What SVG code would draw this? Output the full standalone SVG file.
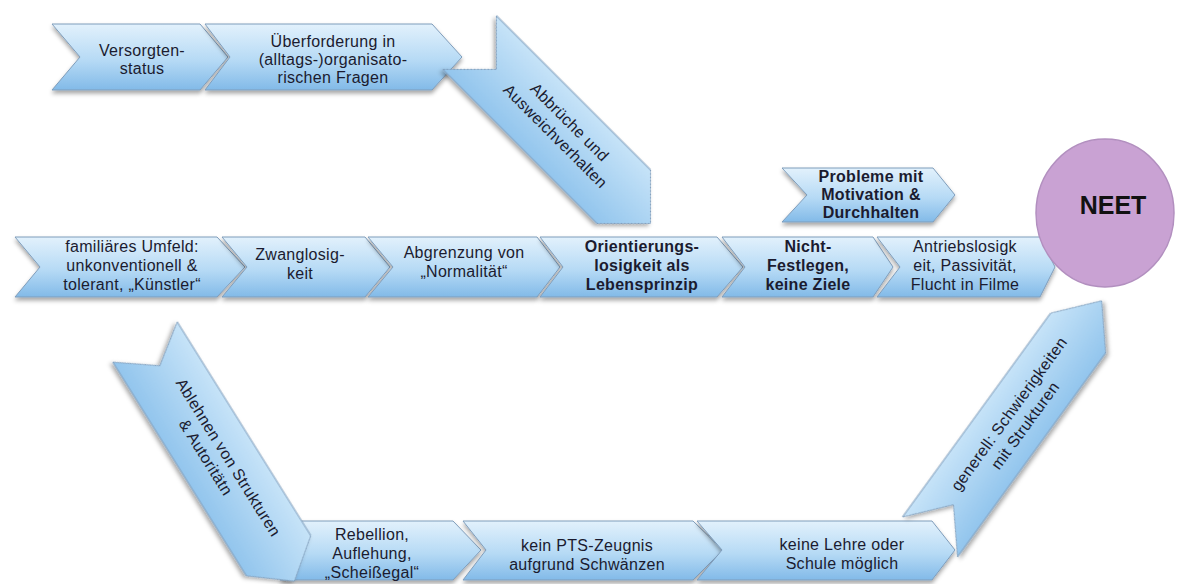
<svg xmlns="http://www.w3.org/2000/svg" width="1177" height="584" viewBox="0 0 1177 584">
  <defs>
    <linearGradient id="chev" x1="0" y1="0" x2="0" y2="1">
      <stop offset="0" stop-color="#e2f1fc"/>
      <stop offset="0.55" stop-color="#b6daf5"/>
      <stop offset="1" stop-color="#82bae8"/>
    </linearGradient>
    <linearGradient id="diag" x1="0" y1="0" x2="0" y2="1">
      <stop offset="0" stop-color="#c6e3f8"/>
      <stop offset="1" stop-color="#92c5ed"/>
    </linearGradient>
    <filter id="sh" x="-10%" y="-20%" width="120%" height="150%">
      <feDropShadow dx="0" dy="3" stdDeviation="2" flood-color="#000" flood-opacity="0.35"/>
    </filter>
  </defs>
  <style>
    .chev { fill: url(#chev); stroke: #7f9dbb; stroke-width: 1; filter: url(#sh); }
    .arr { fill: url(#diag); stroke: #7f9dbb; stroke-width: 1; filter: url(#sh); }
    text { font-family: "Liberation Sans", Arial, sans-serif; font-size: 16px; letter-spacing: 0.3px; fill: #1b1b2f; text-anchor: middle; }
    .b { font-weight: bold; }
    .neet { font-size: 25px; font-weight: bold; letter-spacing: 0; fill: #111; }
  </style>

  <rect width="1177" height="584" fill="#ffffff"/>

  <!-- middle row -->
  <g id="umfeld">
    <path class="chev" d="M15,237 L217,237 L245,267 L217,297 L15,297 L40,267 Z"/>
    <text x="132" y="252">familiäres Umfeld:</text>
    <text x="132" y="271">unkonventionell &amp;</text>
    <text x="132" y="290">tolerant, „Künstler“</text>
  </g>
  <g id="zwanglosigkeit">
    <path class="chev" d="M222,237 L365,237 L390,267 L365,297 L222,297 L247,267 Z"/>
    <text x="300" y="260">Zwanglosig-</text>
    <text x="300" y="279">keit</text>
  </g>
  <g id="abgrenzung">
    <path class="chev" d="M368,237 L537,237 L560,267 L537,297 L368,297 L393,267 Z"/>
    <text x="464" y="258">Abgrenzung von</text>
    <text x="464" y="277">„Normalität“</text>
  </g>
  <g id="orientierung">
    <path class="chev" d="M540,237 L717,237 L743,267 L717,297 L540,297 L563,267 Z"/>
    <text class="b" x="642" y="252">Orientierungs-</text>
    <text class="b" x="642" y="271">losigkeit als</text>
    <text class="b" x="642" y="290">Lebensprinzip</text>
  </g>
  <g id="festlegen">
    <path class="chev" d="M722,237 L873,237 L893,267 L873,297 L722,297 L745,267 Z"/>
    <text class="b" x="808" y="252">Nicht-</text>
    <text class="b" x="808" y="271">Festlegen,</text>
    <text class="b" x="808" y="290">keine Ziele</text>
  </g>
  <g id="antrieb">
    <path class="chev" d="M877,237 L1040,237 L1055,267 L1040,297 L877,297 L900,267 Z"/>
    <text x="965" y="252">Antriebslosigk</text>
    <text x="965" y="271">eit, Passivität,</text>
    <text x="965" y="290">Flucht in Filme</text>
  </g>
  <g id="motivation">
    <path class="chev" d="M782,168 L933,168 L955,195 L933,222 L782,222 L807,195 Z"/>
    <text class="b" x="871" y="182">Probleme mit</text>
    <text class="b" x="871" y="200">Motivation &amp;</text>
    <text class="b" x="871" y="218">Durchhalten</text>
  </g>

  <!-- top row -->
  <g id="versorgt">
    <path class="chev" d="M52,24 L200,24 L228,57 L200,90 L52,90 L80,57 Z"/>
    <text x="142" y="56">Versorgten-</text>
    <text x="142" y="74">status</text>
  </g>
  <g id="ueberforderung">
    <path class="chev" d="M205,24 L432,24 L462,57 L432,90 L205,90 L230,57 Z"/>
    <text x="333" y="47">Überforderung in</text>
    <text x="333" y="65">(alltags-)organisato-</text>
    <text x="333" y="83">rischen Fragen</text>
  </g>
  <g id="abbrueche" transform="translate(469.5,42.5) rotate(45)">
    <path class="arr" d="M0,-38 L218,-38 L256,0 L218,38 L0,38 L38,0 Z"/>
    <text x="127" y="-9">Abbrüche und</text>
    <text x="127" y="11">Ausweichverhalten</text>
  </g>

  <!-- bottom row -->
  <g id="rebellion">
    <path class="chev" d="M280,521 L453,521 L481,550 L453,580 L280,580 L303,550 Z"/>
    <text x="372" y="540">Rebellion,</text>
    <text x="372" y="559">Auflehung,</text>
    <text x="372" y="578">„Scheißegal“</text>
  </g>
  <g id="zeugnis">
    <path class="chev" d="M463,521 L693,521 L723,550 L693,580 L463,580 L486,550 Z"/>
    <text x="587" y="551">kein PTS-Zeugnis</text>
    <text x="587" y="570">aufgrund Schwänzen</text>
  </g>
  <g id="lehre">
    <path class="chev" d="M697,521 L932,521 L955,550 L932,580 L697,580 L722,550 Z"/>
    <text x="842" y="550">keine Lehre oder</text>
    <text x="842" y="569">Schule möglich</text>
  </g>
  <g id="ablehnen" transform="translate(145,342) rotate(58)">
    <path class="arr" d="M0,-38 L252,-38 L282,0 L252,38 L0,38 L28,0 Z"/>
    <text x="142" y="-4">Ablehnen von Strukturen</text>
    <text x="130" y="15">&amp; Autoritätn</text>
  </g>
  <g id="generell" transform="translate(930,537) rotate(-54)">
    <path class="arr" d="M0,-34 L252,-34 L292,0 L252,34 L0,34 L40,0 Z"/>
    <text x="146" y="-3">generell: Schwierigkeiten</text>
    <text x="146" y="17">mit Strukturen</text>
  </g>

  <!-- goal -->
  <g id="neet">
    <ellipse cx="1105" cy="213" rx="69" ry="74" fill="#c9a2d3" stroke="#b28fbf" stroke-width="1.5"/>
    <text class="neet" x="1113" y="214">NEET</text>
  </g>

  <g id="connectors"></g>
</svg>
